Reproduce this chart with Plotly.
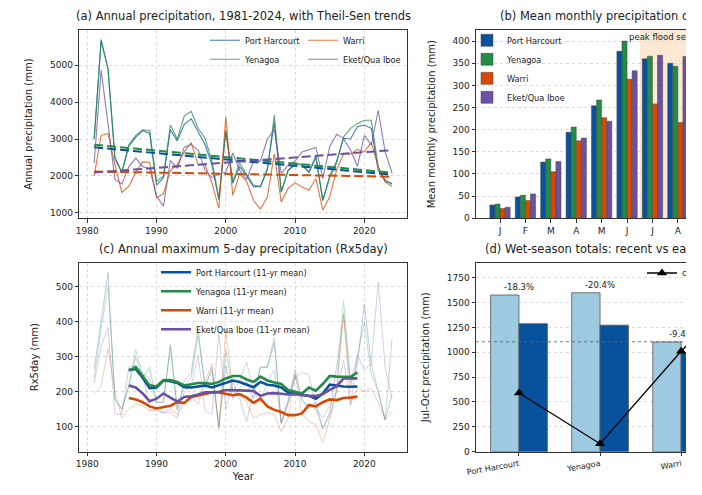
import plotly.graph_objects as go

# page offset of the plot div, and figure size in px
OFF = 8
W, H = 686 - OFF, 495 - OFF

stations = ["Port Harcourt", "Yenagoa", "Warri", "Eket/Qua Iboe"]
colors = ["#08519c", "#238b45", "#d94801", "#6a51a3"]

# (a) annual totals, mm
years = list(range(1981, 2025))
annual_ph = [3000, 5700, 4900, 2500, 2100, 2800, 3050, 3230, 3150, 1750, 1950, 3250, 2950, 3400, 3550,
             3200, 2850, 2300, 1350, 3200, 1800, 2250, 2000, 1700, 1720, 2200, 3450, 1570, 2150, 2300,
             2300, 2100, 2500, 1350, 2000, 2400, 3020, 3000, 3330, 3380, 3290, 2150, 1890, 1780]
annual_yen = [3000, 5650, 4900, 2450, 2100, 2850, 3100, 3250, 3230, 1850, 2000, 3380, 3000, 3620, 3750,
              3290, 3020, 2400, 1400, 3250, 1850, 2350, 2050, 1750, 1700, 2150, 3650, 1550, 2150, 2350,
              2300, 2100, 2550, 1320, 1950, 2350, 3060, 3290, 3420, 3510, 3510, 2250, 1840, 1800]
annual_warri = [2000, 3100, 3150, 2300, 1550, 1720, 2100, 2380, 2370, 1400, 1520, 2150, 2300, 2650, 2900,
                2300, 2300, 1800, 1120, 3600, 1470, 2050, 1850, 1330, 1100, 1430, 2600, 1290, 1660, 1810,
                1700, 1610, 1930, 1070, 1430, 2160, 2600, 2590, 2720, 2650, 2900, 2250, 1840, 1720]
annual_eket = [2350, 4870, 3400, 1900, 1780, 2250, 2480, 2250, 2200, 1450, 1180, 2420, 2200, 2780, 2850,
               2700, 2150, 1950, 2050, 2100, 2620, 2150, 1900, 2400, 2400, 3000, 3250, 2070, 2290, 2400,
               2650, 2720, 2770, 1930, 2790, 3130, 3010, 2700, 2260, 3100, 2830, 3780, 2650, 2080]

# Theil-Sen trend lines, start and end values
trend_years = [1981, 2024]
trend_ph = [2773, 2030]
trend_yen = [2845, 2084]
trend_warri = [2118, 1976]
trend_eket = [2090, 2698]

# (b) mean monthly totals, mm
months = ["J", "F", "M", "A", "M", "J", "J", "A", "S", "O", "N", "D"]
monthly_ph = [30, 48, 127, 194, 254, 377, 360, 350, 390, 280, 100, 30]
monthly_yen = [32, 52, 134, 206, 267, 400, 366, 343, 400, 290, 110, 35]
monthly_warri = [22, 40, 105, 175, 227, 314, 258, 216, 300, 230, 80, 22]
monthly_eket = [25, 55, 128, 181, 219, 333, 368, 365, 400, 290, 130, 40]

# (c) Rx5day, mm
rx5_ph = [265, 400, 540, 175, 150, 215, 300, 240, 270, 170, 170, 330, 145, 230, 255,
          380, 210, 270, 100, 275, 180, 210, 230, 180, 270, 270, 340, 110, 175, 250,
          180, 150, 170, 95, 140, 270, 420, 220, 280, 450, 280, 200, 120, 190]
rx5_yen = [240, 380, 500, 180, 150, 220, 320, 250, 240, 170, 170, 335, 150, 220, 240,
           360, 220, 260, 100, 320, 200, 230, 285, 200, 270, 270, 355, 110, 170, 265,
           170, 160, 150, 95, 130, 210, 460, 230, 300, 400, 250, 200, 120, 350]
rx5_warri = [195, 215, 325, 200, 125, 150, 165, 160, 145, 150, 140, 150, 135, 165, 185,
             165, 230, 280, 90, 380, 200, 190, 170, 125, 135, 140, 135, 85, 125, 250,
             135, 115, 105, 55, 120, 200, 425, 165, 210, 200, 210, 170, 120, 145]
rx5_eket = [225, 330, 385, 135, 135, 270, 275, 250, 150, 145, 140, 140, 125, 200, 215,
            305, 145, 135, 370, 150, 230, 180, 115, 200, 170, 230, 262, 110, 165, 240,
            255, 250, 150, 125, 160, 200, 290, 160, 305, 262, 281, 514, 271, 181]

# 11-yr centred means
mean_years = list(range(1986, 2020))
rx5_mean_ph = [262, 265, 240, 210, 212, 232, 230, 225, 213, 212, 215, 218, 212, 218, 225, 232, 228,
               220, 213, 228, 220, 218, 212, 198, 195, 193, 188, 180, 195, 220, 217, 215, 214, 215]
rx5_mean_yen = [260, 270, 245, 218, 215, 233, 233, 228, 218, 222, 225, 225, 222, 228, 238, 245, 245,
                235, 228, 243, 232, 226, 222, 205, 200, 195, 212, 203, 222, 245, 243, 242, 242, 255]
rx5_mean_warri = [182, 178, 170, 158, 152, 155, 160, 170, 168, 185, 190, 195, 198, 198, 195, 190, 193,
                  183, 168, 180, 158, 148, 142, 133, 133, 138, 162, 158, 170, 178, 176, 182, 183, 186]
rx5_mean_eket = [218, 212, 195, 173, 180, 195, 183, 172, 185, 187, 192, 198, 198, 200, 205, 205, 203,
                 203, 202, 188, 195, 196, 194, 192, 193, 190, 188, 188, 193, 205, 215, 238, 238, 238]

# (d) Jul-Oct totals, early vs recent period
wet_early = [1575, 1598, 1103, 1700]
wet_recent = [1287, 1272, 999, 1530]
wet_marker = [590, 80, 1010, 1850]
ref_level = 1105


# page pixels -> paper fractions
def px(x):
    return (x - OFF) / W


def py(y):
    return 1 - (y - OFF) / H


annual = [annual_ph, annual_yen, annual_warri, annual_eket]
trends = [trend_ph, trend_yen, trend_warri, trend_eket]
monthly = [monthly_ph, monthly_yen, monthly_warri, monthly_eket]
rx5 = [rx5_ph, rx5_yen, rx5_warri, rx5_eket]
rx5_mean = [rx5_mean_ph, rx5_mean_yen, rx5_mean_warri, rx5_mean_eket]

fig = go.Figure()

legend_a = ["legend", "legend", "legend2", "legend2"]
for i, name in enumerate(stations):
    fig.add_trace(go.Scatter(x=years, y=annual[i], mode="lines", name=name,
                             line=dict(color=colors[i], width=1.1), opacity=0.75,
                             legend=legend_a[i], xaxis="x", yaxis="y"))
for i, name in enumerate(stations):
    fig.add_trace(go.Scatter(x=trend_years, y=trends[i], mode="lines", showlegend=False,
                             line=dict(color=colors[i], width=2, dash="9px,4px"),
                             xaxis="x", yaxis="y"))

for i, name in enumerate(stations):
    fig.add_trace(go.Bar(x=list(range(12)), y=monthly[i], name=name, width=0.2,
                         offset=-0.4 + 0.2 * i,
                         marker=dict(color=colors[i], line=dict(color="#444", width=0.5)),
                         legend="legend3", xaxis="x2", yaxis="y2"))

for i, name in enumerate(stations):
    fig.add_trace(go.Scatter(x=years, y=rx5[i], mode="lines", showlegend=False,
                             line=dict(color=colors[i], width=1), opacity=0.28,
                             xaxis="x3", yaxis="y3"))
for i, name in enumerate(stations):
    fig.add_trace(go.Scatter(x=mean_years, y=rx5_mean[i], mode="lines", name=name + " (11-yr mean)",
                             line=dict(color=colors[i], width=2.6),
                             legend="legend4", xaxis="x3", yaxis="y3"))

fig.add_trace(go.Bar(x=stations, y=wet_early, width=0.35, offset=-0.35, showlegend=False,
                     marker=dict(color="#9ecae1", line=dict(color="#555", width=0.8)),
                     xaxis="x4", yaxis="y4"))
fig.add_trace(go.Bar(x=stations, y=wet_recent, width=0.35, offset=0, showlegend=False,
                     marker=dict(color="#08519c", line=dict(color="#555", width=0.8)),
                     xaxis="x4", yaxis="y4"))
fig.add_trace(go.Scatter(x=stations, y=wet_marker, mode="lines+markers", name="change (%)",
                         line=dict(color="black", width=1.3),
                         marker=dict(symbol="triangle-up", size=9, color="black"),
                         legend="legend5", xaxis="x4", yaxis="y4"))

axis_style = dict(showline=True, linecolor="#333", linewidth=1, ticks="outside", ticklen=3.5,
                  tickwidth=0.8, tickcolor="#333", zeroline=False, gridcolor="#dadada",
                  griddash="dot", gridwidth=0.8, tickfont=dict(size=9, color="#222"))
label_font = dict(size=10, color="#222")

left_dom = [px(79.3), px(407.3)]
right_dom = [px(476), 1.0]
top_dom = [py(218.3), py(30)]
bot_dom = [py(451.7), py(262.7)]

fig.update_layout(
    xaxis=dict(axis_style, domain=left_dom, anchor="y", range=[1978.85, 2026.2],
               tickvals=[1980, 1990, 2000, 2010, 2020], mirror=True),
    yaxis=dict(axis_style, domain=top_dom, anchor="x", range=[848, 5958],
               tickvals=[1000, 2000, 3000, 4000, 5000], mirror=True,
               title=dict(text="Annual precipitation (mm)", font=label_font)),
    xaxis2=dict(axis_style, domain=right_dom, anchor="y2", range=[-0.945, 7.32],
                tickvals=list(range(12)), ticktext=months, showgrid=False, mirror=True),
    yaxis2=dict(axis_style, domain=top_dom, anchor="x2", range=[0, 425], dtick=50,
                title=dict(text="Mean monthly precipitation (mm)", font=label_font)),
    xaxis3=dict(axis_style, domain=left_dom, anchor="y3", range=[1978.85, 2026.2],
                tickvals=[1980, 1990, 2000, 2010, 2020], mirror=True,
                title=dict(text="Year", font=label_font, standoff=4)),
    yaxis3=dict(axis_style, domain=bot_dom, anchor="x3", range=[28.6, 568.6],
                tickvals=[100, 200, 300, 400, 500], mirror=True,
                title=dict(text="Rx5day (mm)", font=label_font)),
    xaxis4=dict(axis_style, domain=right_dom, anchor="y4", range=[-0.53, 2.06], showgrid=False,
                mirror=True, tickangle=-10, tickfont=dict(size=8, color="#222")),
    yaxis4=dict(axis_style, domain=bot_dom, anchor="x4", range=[0, 1900], dtick=250,
                title=dict(text="Jul-Oct precipitation (mm)", font=label_font)),
)

# legends: x from where the text starts, y from the first row
legend_style = dict(bgcolor="rgba(0,0,0,0)", font=dict(size=8.2, color="#222"), itemwidth=30,
                    xanchor="left", yanchor="top", tracegroupgap=0)
fig.update_layout(
    legend=dict(legend_style, x=px(241 - 36), y=py(40.3 - 14.5)),
    legend2=dict(legend_style, x=px(339 - 36), y=py(40.3 - 14.5)),
    legend3=dict(legend_style, x=px(508 - 41), y=py(40.3 - 14.5)),
    legend4=dict(legend_style, x=px(197 - 41), y=py(272.3 - 14.5)),
    legend5=dict(legend_style, x=px(683 - 41), y=py(273 - 14.5)),
)

# shaded wet season in (b)
fig.add_shape(type="rect", xref="x2", yref="y2 domain", x0=5.5, x1=8.5, y0=0, y1=1,
              fillcolor="#fde3c8", line_width=0, opacity=0.8, layer="below")
fig.add_annotation(x=6.6, y=1, xref="x2", yref="y2 domain", yanchor="top", showarrow=False,
                   text="peak flood season", font=dict(size=8.5, color="#222"))

fig.add_shape(type="line", xref="x4 domain", yref="y4", x0=0, x1=1, y0=ref_level, y1=ref_level,
              line=dict(color="#666", width=0.9, dash="dot"))

for i, name in enumerate(stations):
    pct = (wet_recent[i] - wet_early[i]) / wet_early[i] * 100
    fig.add_annotation(x=name, y=max(wet_early[i], wet_recent[i]), xref="x4", yref="y4",
                       yanchor="bottom", yshift=1, showarrow=False, text=f"{pct:.1f}%",
                       font=dict(size=8.5, color="#222"))

title_font = dict(size=11.5, color="#222")
fig.add_annotation(x=px(243.3), y=py(25), xref="paper", yref="paper", xanchor="center",
                   yanchor="bottom", showarrow=False, font=title_font,
                   text="(a) Annual precipitation, 1981-2024, with Theil-Sen trends")
fig.add_annotation(x=px(498), y=py(25), xref="paper", yref="paper", xanchor="left",
                   yanchor="bottom", showarrow=False, font=title_font,
                   text="(b) Mean monthly precipitation climatology")
fig.add_annotation(x=px(243.3), y=py(258), xref="paper", yref="paper", xanchor="center",
                   yanchor="bottom", showarrow=False, font=title_font,
                   text="(c) Annual maximum 5-day precipitation (Rx5day)")
fig.add_annotation(x=px(483), y=py(258), xref="paper", yref="paper", xanchor="left",
                   yanchor="bottom", showarrow=False, font=title_font,
                   text="(d) Wet-season totals: recent vs early period")

fig.update_layout(width=W, height=H, margin=dict(l=0, r=0, t=0, b=0, autoexpand=False),
                  paper_bgcolor="white", plot_bgcolor="white",
                  font=dict(family="DejaVu Sans", color="#222"))

fig.write_html("out.html")
